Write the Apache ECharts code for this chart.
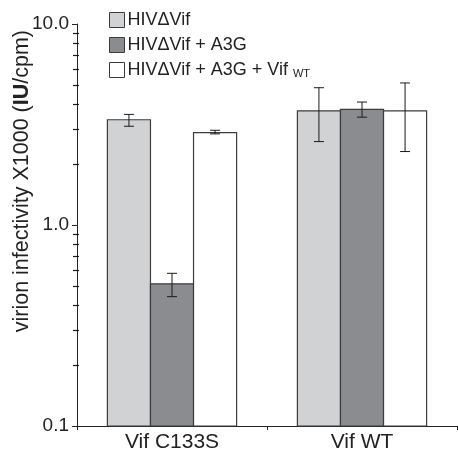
<!DOCTYPE html>
<html><head><meta charset="utf-8">
<script src="https://cdn.jsdelivr.net/npm/echarts@6/dist/echarts.min.js"></script>
<style>html,body{margin:0;padding:0;background:#fff}#c{width:458px;height:456px}</style>
</head><body><div id="c"></div>
<script>
const categories = ['Vif C133S', 'Vif WT'];
const seriesNames = ['HIVΔVif', 'HIVΔVif + A3G', 'HIVΔVif + A3G + Vif WT'];
const valsDelta = [3.34, 3.70];
const valsA3G = [0.51, 3.76];
const valsVifWT = [2.88, 3.70];
const errLowDelta = [3.10, 2.60], errHighDelta = [3.55, 4.82];
const errLowA3G = [0.44, 3.44], errHighA3G = [0.575, 4.09];
const errLowVifWT = [2.84, 2.32], errHighVifWT = [2.96, 5.09];
const yTicks = [0.1, 1, 10];
const minorTicks = [0.2,0.3,0.4,0.5,0.6,0.7,0.8,0.9,2,3,4,5,6,7,8,9];

const FONT = 'Liberation Sans, Arial, sans-serif';
const colors = ['#d1d2d4', '#8b8c8f', '#ffffff'];
const border = '#3c3c3c';
const GAP = 0.32;
const YMIN = yTicks[0], YMAX = yTicks[yTicks.length - 1];
const values = [valsDelta, valsA3G, valsVifWT];
const lows = [errLowDelta, errLowA3G, errLowVifWT];
const highs = [errHighDelta, errHighA3G, errHighVifWT];

const barSeries = values.map((v, i) => ({
  name: seriesNames[i], type: 'custom', silent: true, z: 2,
  itemStyle: {color: colors[i], borderColor: border, borderWidth: 1},
  data: categories.map((c, k) => [k, v[k]]),
  encode: {x: 0, y: 1},
  renderItem: function (params, api) {
    const k = api.value(0);
    const top = api.coord([k, api.value(1)]);
    const base = api.coord([k, YMIN]);
    const bw = api.size([1, 0])[0] * (1 - GAP) / 3;
    const x = top[0] + (i - 1) * bw - bw / 2;
    return {type: 'rect', shape: {x: x, y: top[1], width: bw, height: base[1] - top[1]},
      style: {fill: colors[i], stroke: border, lineWidth: 1.2}};
  }
}));

const errSeries = values.map((v, i) => ({
  type: 'custom', name: 'err' + i, z: 5, silent: true,
  data: categories.map((c, k) => [k, lows[i][k], highs[i][k]]),
  encode: {x: 0, y: [1, 2]},
  renderItem: function (params, api) {
    const k = api.value(0);
    const lo = api.coord([k, api.value(1)]);
    const hi = api.coord([k, api.value(2)]);
    const bw = api.size([1, 0])[0] * (1 - GAP) / 3;
    const x = lo[0] + (i - 1) * bw;
    const cap = 5;
    const st = {stroke: '#1a1a1a', lineWidth: 1};
    return {type: 'group', children: [
      {type: 'line', shape: {x1: x, y1: lo[1], x2: x, y2: hi[1]}, style: st},
      {type: 'line', shape: {x1: x - cap, y1: lo[1], x2: x + cap, y2: lo[1]}, style: st},
      {type: 'line', shape: {x1: x - cap, y1: hi[1], x2: x + cap, y2: hi[1]}, style: st}
    ]};
  }
}));

// minor ticks as a custom series: one short line per tick value, at the value axis
const minorSeries = {
  type: 'custom', name: 'minorTicks', z: 8, silent: true,
  data: minorTicks.map(t => [0, t, t]),
  encode: {x: 0, y: [1, 2]},
  renderItem: function (params, api) {
    const p = api.coord([api.value(0), api.value(1)]);
    const band = api.size([1, 0])[0];
    const x0 = Math.round(p[0] - band / 2);
    const y = Math.round(p[1]) + 0.5;
    return {type: 'line', shape: {x1: x0 - 4, y1: y, x2: x0 + 2, y2: y},
      style: {stroke: '#1a1a1a', lineWidth: 1.2}};
  }
};

const chart = echarts.init(document.getElementById('c'), null, {renderer: 'canvas'});
chart.setOption({
  animation: false,
  backgroundColor: '#fff',
  grid: {left: 77, right: 1, top: 24, bottom: 30, containLabel: false},
  legend: {
    data: seriesNames.map((n, i) => ({name: n, itemStyle: {color: colors[i], borderColor: border, borderWidth: 1}})),
    orient: 'vertical', left: 109, top: 11, padding: 0,
    itemWidth: 15, itemHeight: 15, itemGap: 7, icon: 'rect',
    selectedMode: false,
    textStyle: {fontFamily: FONT, fontSize: 18, lineHeight: 18, color: '#222', padding: [0,0,0,-2],
      rich: {s: {fontSize: 11, fontFamily: FONT, color: '#222', verticalAlign: 'bottom', lineHeight: 18, padding: [4,0,0,0]}}},
    formatter: function (n) {
      if (n === seriesNames[2]) return 'HIVΔVif + A3G + Vif {s|WT}';
      return n;
    }
  },
  xAxis: {
    type: 'category', data: categories,
    axisLine: {lineStyle: {color: '#222', width: 1}},
    axisTick: {show: true, length: 4, lineStyle: {color: '#222'}},
    axisLabel: {fontFamily: FONT, fontSize: 21, color: '#222', margin: 6}
  },
  yAxis: {
    type: 'log', logBase: 10, min: YMIN, max: YMAX,
    axisLine: {show: true, lineStyle: {color: '#222', width: 1}},
    axisTick: {show: true, length: 5, lineStyle: {color: '#222'}},
    splitLine: {show: false},
    axisLabel: {fontFamily: FONT, fontSize: 19, color: '#222', margin: 8,
      formatter: v => Number(v).toFixed(1)}
  },
  graphic: [{
    id: 'ylabel', type: 'text', left: 11, top: 30, rotation: Math.PI / 2,
    style: {
      text: 'virion infectivity X1000 ({b|IU}/cpm)',
      font: '21.5px ' + FONT, fill: '#222',
      rich: {b: {fontWeight: 'bold', fontSize: 21.5, fontFamily: FONT, fill: '#222'}}
    }
  }],
  series: [...barSeries, ...errSeries, minorSeries]
});
</script></body></html>
